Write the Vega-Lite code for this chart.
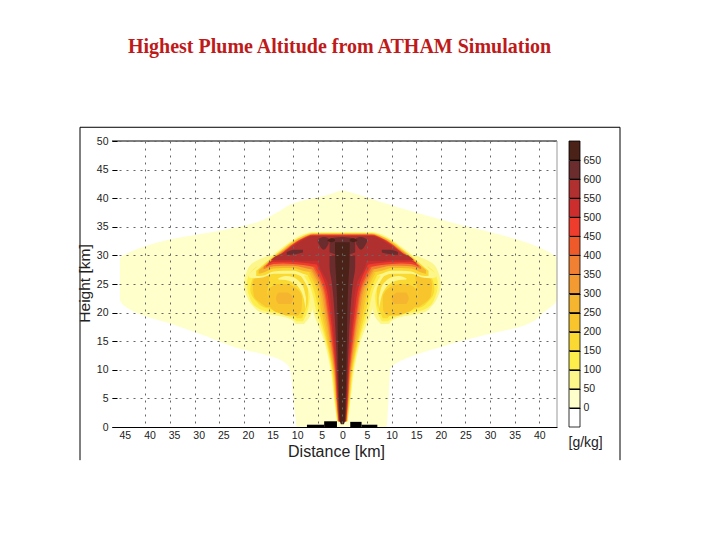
{
"$schema":"https://vega.github.io/schema/vega-lite/v6.json",
"background":"white",
"padding":{"left":77,"top":36,"right":0,"bottom":0},
"spacing":12,
"bounds":"flush",
"config":{"font":"Liberation Sans","view":{"stroke":null}},
"datasets":{
"shell":[
{"part":"env","level":0,"y":0,"x":-9.3,"x2":9},{"part":"env","level":0,"y":5,"x":-10,"x2":9.4},{"part":"env","level":0,"y":10,"x":-10.6,"x2":9.7},{"part":"env","level":0,"y":12,"x":-13.3,"x2":13},{"part":"env","level":0,"y":14,"x":-22,"x2":20},{"part":"env","level":0,"y":16.3,"x":-29,"x2":30},{"part":"env","level":0,"y":17.7,"x":-33.7,"x2":36.8},{"part":"env","level":0,"y":20,"x":-42,"x2":40.9},{"part":"env","level":0,"y":22.4,"x":-45.2,"x2":43.6},{"part":"env","level":0,"y":29.4,"x":-45.2,"x2":43.6},{"part":"env","level":0,"y":31,"x":-42,"x2":41},{"part":"env","level":0,"y":32.9,"x":-34.3,"x2":35},{"part":"env","level":0,"y":34.3,"x":-25,"x2":29},{"part":"env","level":0,"y":35.8,"x":-17.4,"x2":22},{"part":"env","level":0,"y":37.5,"x":-13.3,"x2":15},{"part":"env","level":0,"y":39.3,"x":-9.3,"x2":8},{"part":"env","level":0,"y":40.7,"x":-2.5,"x2":3},{"part":"env","level":0,"y":41.3,"x":-0.5,"x2":0.5},
{"part":"l50","level":50,"y":18,"x":-9.5,"x2":-7.8},{"part":"l50","level":50,"y":19,"x":-11,"x2":-6.8},{"part":"l50","level":50,"y":20,"x":-16.5,"x2":-6.3},{"part":"l50","level":50,"y":21,"x":-18,"x2":-6},{"part":"l50","level":50,"y":23,"x":-19.5,"x2":-5.5},{"part":"l50","level":50,"y":25,"x":-20,"x2":-5.5},{"part":"l50","level":50,"y":27,"x":-19.5,"x2":-5},{"part":"l50","level":50,"y":28.5,"x":-18.5,"x2":-5},{"part":"l50","level":50,"y":30,"x":-15,"x2":-5},
{"part":"r50","level":50,"y":18,"x":7.8,"x2":9.5},{"part":"r50","level":50,"y":19,"x":6.8,"x2":11},{"part":"r50","level":50,"y":20,"x":6.3,"x2":16.5},{"part":"r50","level":50,"y":21,"x":6,"x2":18},{"part":"r50","level":50,"y":23,"x":5.5,"x2":19.5},{"part":"r50","level":50,"y":25,"x":5.5,"x2":20},{"part":"r50","level":50,"y":27,"x":5,"x2":19.5},{"part":"r50","level":50,"y":28.5,"x":5,"x2":18.5},{"part":"r50","level":50,"y":30,"x":5,"x2":15},
{"part":"l100","level":100,"y":18.5,"x":-9.3,"x2":-8},{"part":"l100","level":100,"y":19.5,"x":-11.5,"x2":-7.4},{"part":"l100","level":100,"y":20.5,"x":-16.5,"x2":-7},{"part":"l100","level":100,"y":22,"x":-18.5,"x2":-6.7},{"part":"l100","level":100,"y":25,"x":-19.4,"x2":-6.5},{"part":"l100","level":100,"y":27,"x":-18.7,"x2":-6},{"part":"l100","level":100,"y":28,"x":-17.5,"x2":-6},
{"part":"r100","level":100,"y":18.5,"x":8,"x2":9.3},{"part":"r100","level":100,"y":19.5,"x":7.4,"x2":11.5},{"part":"r100","level":100,"y":20.5,"x":7,"x2":16.5},{"part":"r100","level":100,"y":22,"x":6.7,"x2":18.5},{"part":"r100","level":100,"y":25,"x":6.5,"x2":19.4},{"part":"r100","level":100,"y":27,"x":6,"x2":18.7},{"part":"r100","level":100,"y":28,"x":6,"x2":17.5},
{"part":"l150","level":150,"y":19,"x":-9.2,"x2":-8.2},{"part":"l150","level":150,"y":20,"x":-11,"x2":-7.7},{"part":"l150","level":150,"y":20.8,"x":-15.5,"x2":-7.3},{"part":"l150","level":150,"y":22,"x":-17.5,"x2":-7},{"part":"l150","level":150,"y":24,"x":-18.7,"x2":-7},{"part":"l150","level":150,"y":26,"x":-18.2,"x2":-7},{"part":"l150","level":150,"y":27.5,"x":-16.5,"x2":-7},
{"part":"r150","level":150,"y":19,"x":8.2,"x2":9.2},{"part":"r150","level":150,"y":20,"x":7.7,"x2":11},{"part":"r150","level":150,"y":20.8,"x":7.3,"x2":15.5},{"part":"r150","level":150,"y":22,"x":7,"x2":17.5},{"part":"r150","level":150,"y":24,"x":7,"x2":18.7},{"part":"r150","level":150,"y":26,"x":7,"x2":18.2},{"part":"r150","level":150,"y":27.5,"x":7,"x2":16.5}
],
"swirl":[
{"part":"sl","level":50,"x":-13,"y":25.8,"y2":26},{"part":"sl","level":50,"x":-11.5,"y":25.7,"y2":26.4},{"part":"sl","level":50,"x":-10,"y":25.2,"y2":26.2},{"part":"sl","level":50,"x":-8.8,"y":24.3,"y2":25.5},{"part":"sl","level":50,"x":-7.9,"y":22.6,"y2":24.4},{"part":"sl","level":50,"x":-7.4,"y":20.5,"y2":22.6},
{"part":"sr","level":50,"x":13,"y":25.8,"y2":26},{"part":"sr","level":50,"x":11.5,"y":25.7,"y2":26.4},{"part":"sr","level":50,"x":10,"y":25.2,"y2":26.2},{"part":"sr","level":50,"x":8.8,"y":24.3,"y2":25.5},{"part":"sr","level":50,"x":7.9,"y":22.6,"y2":24.4},{"part":"sr","level":50,"x":7.4,"y":20.5,"y2":22.6}
],
"core":[
{"part":"bl","level":200,"y":19.5,"x":-11.5,"x2":-9},{"part":"bl","level":200,"y":20.5,"x":-14.2,"x2":-8.3},{"part":"bl","level":200,"y":22.5,"x":-15.3,"x2":-8.2},{"part":"bl","level":200,"y":24,"x":-15,"x2":-9},{"part":"bl","level":200,"y":25,"x":-13.5,"x2":-11},
{"part":"br","level":200,"y":19.5,"x":9,"x2":11.5},{"part":"br","level":200,"y":20.5,"x":8.3,"x2":14.2},{"part":"br","level":200,"y":22.5,"x":8.2,"x2":15.3},{"part":"br","level":200,"y":24,"x":9,"x2":15},{"part":"br","level":200,"y":25,"x":11,"x2":13.5},
{"part":"rl","level":200,"y":21,"x":-15.5,"x2":-14.5},{"part":"rl","level":200,"y":23,"x":-18,"x2":-15.3},{"part":"rl","level":200,"y":25,"x":-18.2,"x2":-15},{"part":"rl","level":200,"y":26.5,"x":-17.5,"x2":-14.8},{"part":"rl","level":200,"y":27.5,"x":-16.5,"x2":-15},
{"part":"rr","level":200,"y":21,"x":14.5,"x2":15.5},{"part":"rr","level":200,"y":23,"x":15.3,"x2":18},{"part":"rr","level":200,"y":25,"x":15,"x2":18.2},{"part":"rr","level":200,"y":26.5,"x":14.8,"x2":17.5},{"part":"rr","level":200,"y":27.5,"x":15,"x2":16.5},
{"part":"al","level":250,"y":21.5,"x":-13,"x2":-10.5},{"part":"al","level":250,"y":22.5,"x":-13.5,"x2":-10},{"part":"al","level":250,"y":23.5,"x":-13,"x2":-11},
{"part":"ar","level":250,"y":21.5,"x":10.5,"x2":13},{"part":"ar","level":250,"y":22.5,"x":10,"x2":13.5},{"part":"ar","level":250,"y":23.5,"x":11,"x2":13}
],
"cap":[
{"part":"c50","level":50,"x":-19,"y":26.8,"y2":26.2},{"part":"c50","level":50,"x":-18,"y":27.5,"y2":26},{"part":"c50","level":50,"x":-16,"y":28.8,"y2":26.2},{"part":"c50","level":50,"x":-14,"y":30.2,"y2":26.8},{"part":"c50","level":50,"x":-12,"y":31.5,"y2":26.8},{"part":"c50","level":50,"x":-10,"y":32.8,"y2":26.8},{"part":"c50","level":50,"x":-8,"y":33.7,"y2":26.2},{"part":"c50","level":50,"x":-6,"y":34.1,"y2":25.5},{"part":"c50","level":50,"x":0,"y":34.1,"y2":25},{"part":"c50","level":50,"x":6,"y":34.1,"y2":25.5},{"part":"c50","level":50,"x":8,"y":33.7,"y2":26.2},{"part":"c50","level":50,"x":10,"y":32.8,"y2":26.8},{"part":"c50","level":50,"x":12,"y":31.5,"y2":26.8},{"part":"c50","level":50,"x":14,"y":30.2,"y2":26.8},{"part":"c50","level":50,"x":16,"y":28.8,"y2":26.2},{"part":"c50","level":50,"x":18,"y":27.5,"y2":26},{"part":"c50","level":50,"x":19,"y":26.8,"y2":26.2},
{"part":"c150","level":150,"x":-17.5,"y":27.3,"y2":26.4},{"part":"c150","level":150,"x":-16,"y":28.4,"y2":26.5},{"part":"c150","level":150,"x":-14,"y":29.9,"y2":27.2},{"part":"c150","level":150,"x":-12,"y":31.2,"y2":27.3},{"part":"c150","level":150,"x":-10,"y":32.5,"y2":27.3},{"part":"c150","level":150,"x":-8,"y":33.4,"y2":26.8},{"part":"c150","level":150,"x":-6,"y":33.9,"y2":26.3},{"part":"c150","level":150,"x":0,"y":33.9,"y2":26},{"part":"c150","level":150,"x":6,"y":33.9,"y2":26.3},{"part":"c150","level":150,"x":8,"y":33.4,"y2":26.8},{"part":"c150","level":150,"x":10,"y":32.5,"y2":27.3},{"part":"c150","level":150,"x":12,"y":31.2,"y2":27.3},{"part":"c150","level":150,"x":14,"y":29.9,"y2":27.2},{"part":"c150","level":150,"x":16,"y":28.4,"y2":26.5},{"part":"c150","level":150,"x":17.5,"y":27.3,"y2":26.4},
{"part":"c250","level":250,"x":-17,"y":27.4,"y2":26.8},{"part":"c250","level":250,"x":-16,"y":28.1,"y2":27},{"part":"c250","level":250,"x":-14,"y":29.7,"y2":27.7},{"part":"c250","level":250,"x":-12,"y":31,"y2":27.8},{"part":"c250","level":250,"x":-10,"y":32.3,"y2":27.8},{"part":"c250","level":250,"x":-8,"y":33.3,"y2":27.3},{"part":"c250","level":250,"x":-6,"y":33.8,"y2":27},{"part":"c250","level":250,"x":0,"y":33.8,"y2":26.5},{"part":"c250","level":250,"x":6,"y":33.8,"y2":27},{"part":"c250","level":250,"x":8,"y":33.3,"y2":27.3},{"part":"c250","level":250,"x":10,"y":32.3,"y2":27.8},{"part":"c250","level":250,"x":12,"y":31,"y2":27.8},{"part":"c250","level":250,"x":14,"y":29.7,"y2":27.7},{"part":"c250","level":250,"x":16,"y":28.1,"y2":27},{"part":"c250","level":250,"x":17,"y":27.4,"y2":26.8},
{"part":"c350","level":350,"x":-16,"y":28,"y2":27.6},{"part":"c350","level":350,"x":-14,"y":29.5,"y2":28.1},{"part":"c350","level":350,"x":-12,"y":30.8,"y2":28.2},{"part":"c350","level":350,"x":-10,"y":32.1,"y2":28.2},{"part":"c350","level":350,"x":-8,"y":33.1,"y2":27.9},{"part":"c350","level":350,"x":-6,"y":33.7,"y2":27.5},{"part":"c350","level":350,"x":0,"y":33.7,"y2":27},{"part":"c350","level":350,"x":6,"y":33.7,"y2":27.5},{"part":"c350","level":350,"x":8,"y":33.1,"y2":27.9},{"part":"c350","level":350,"x":10,"y":32.1,"y2":28.2},{"part":"c350","level":350,"x":12,"y":30.8,"y2":28.2},{"part":"c350","level":350,"x":14,"y":29.5,"y2":28.1},{"part":"c350","level":350,"x":16,"y":28,"y2":27.6},
{"part":"c450","level":450,"x":-15.5,"y":28.2,"y2":28},{"part":"c450","level":450,"x":-14,"y":29.3,"y2":28.5},{"part":"c450","level":450,"x":-12,"y":30.6,"y2":28.6},{"part":"c450","level":450,"x":-10,"y":32,"y2":28.5},{"part":"c450","level":450,"x":-8,"y":33,"y2":28.3},{"part":"c450","level":450,"x":-6,"y":33.6,"y2":28},{"part":"c450","level":450,"x":0,"y":33.6,"y2":27.5},{"part":"c450","level":450,"x":6,"y":33.6,"y2":28},{"part":"c450","level":450,"x":8,"y":33,"y2":28.3},{"part":"c450","level":450,"x":10,"y":32,"y2":28.5},{"part":"c450","level":450,"x":12,"y":30.6,"y2":28.6},{"part":"c450","level":450,"x":14,"y":29.3,"y2":28.5},{"part":"c450","level":450,"x":15.5,"y":28.2,"y2":28},
{"part":"c500","level":500,"x":-15,"y":28.7,"y2":28.5},{"part":"c500","level":500,"x":-14,"y":29.2,"y2":28.9},{"part":"c500","level":500,"x":-12,"y":30.5,"y2":28.9},{"part":"c500","level":500,"x":-10,"y":31.8,"y2":28.9},{"part":"c500","level":500,"x":-8,"y":32.9,"y2":28.7},{"part":"c500","level":500,"x":-6,"y":33.5,"y2":28.5},{"part":"c500","level":500,"x":0,"y":33.5,"y2":28},{"part":"c500","level":500,"x":6,"y":33.5,"y2":28.5},{"part":"c500","level":500,"x":8,"y":32.9,"y2":28.7},{"part":"c500","level":500,"x":10,"y":31.8,"y2":28.9},{"part":"c500","level":500,"x":12,"y":30.5,"y2":28.9},{"part":"c500","level":500,"x":14,"y":29.2,"y2":28.9},{"part":"c500","level":500,"x":15,"y":28.7,"y2":28.5},
{"part":"c550","level":550,"x":-14.5,"y":29.2,"y2":29.1},{"part":"c550","level":550,"x":-14,"y":29.6,"y2":29.2},{"part":"c550","level":550,"x":-12,"y":30.4,"y2":29.2},{"part":"c550","level":550,"x":-10,"y":31.6,"y2":29.2},{"part":"c550","level":550,"x":-8,"y":32.7,"y2":29},{"part":"c550","level":550,"x":-6,"y":33.4,"y2":29},{"part":"c550","level":550,"x":0,"y":33.4,"y2":29},{"part":"c550","level":550,"x":6,"y":33.4,"y2":29},{"part":"c550","level":550,"x":8,"y":32.7,"y2":29},{"part":"c550","level":550,"x":10,"y":31.6,"y2":29.2},{"part":"c550","level":550,"x":12,"y":30.4,"y2":29.2},{"part":"c550","level":550,"x":14,"y":29.6,"y2":29.2},{"part":"c550","level":550,"x":14.5,"y":29.2,"y2":29.1},
{"part":"d1","level":600,"x":-5,"y":32.8,"y2":32.4},{"part":"d1","level":600,"x":-3.8,"y":33.2,"y2":31},{"part":"d1","level":600,"x":-2.8,"y":33,"y2":32},
{"part":"d2","level":600,"x":2.8,"y":33,"y2":32},{"part":"d2","level":600,"x":3.8,"y":33.2,"y2":31},{"part":"d2","level":600,"x":5,"y":32.8,"y2":32.4},
{"part":"d3","level":600,"x":-2.6,"y":32.9,"y2":30.5},{"part":"d3","level":600,"x":0,"y":33.2,"y2":30},{"part":"d3","level":600,"x":2.6,"y":32.9,"y2":30.5},
{"part":"p1","level":650,"x":-3,"y":32.7,"y2":32.5},{"part":"p1","level":650,"x":-2.2,"y":33,"y2":32.3},{"part":"p1","level":650,"x":-1.5,"y":32.8,"y2":32.5},
{"part":"p2","level":650,"x":1.5,"y":32.8,"y2":32.5},{"part":"p2","level":650,"x":2.2,"y":33,"y2":32.3},{"part":"p2","level":650,"x":3,"y":32.7,"y2":32.5},
{"part":"p3","level":600,"x":-11.3,"y":30.6,"y2":30.1},{"part":"p3","level":600,"x":-9.7,"y":31,"y2":30.2},{"part":"p3","level":600,"x":-8,"y":31,"y2":30.5},
{"part":"p4","level":600,"x":8,"y":31,"y2":30.5},{"part":"p4","level":600,"x":9.7,"y":31,"y2":30.2},{"part":"p4","level":600,"x":11.3,"y":30.6,"y2":30.1}
],
"stem":[
{"part":"t50","level":50,"y":1,"x":-1.1,"x2":1.1},{"part":"t50","level":50,"y":5,"x":-1.7,"x2":1.7},{"part":"t50","level":50,"y":10,"x":-2.4,"x2":2.4},{"part":"t50","level":50,"y":15,"x":-3.7,"x2":3.7},{"part":"t50","level":50,"y":20,"x":-5.9,"x2":5.9},{"part":"t50","level":50,"y":25,"x":-7.4,"x2":7.4},{"part":"t50","level":50,"y":26.5,"x":-8.5,"x2":8.5},
{"part":"t100","level":100,"y":1,"x":-1.05,"x2":1.05},{"part":"t100","level":100,"y":5,"x":-1.6,"x2":1.6},{"part":"t100","level":100,"y":10,"x":-2.2,"x2":2.2},{"part":"t100","level":100,"y":15,"x":-3.4,"x2":3.4},{"part":"t100","level":100,"y":20,"x":-5.2,"x2":5.2},{"part":"t100","level":100,"y":25,"x":-6.8,"x2":6.8},{"part":"t100","level":100,"y":26.5,"x":-7.8,"x2":7.8},
{"part":"t150","level":150,"y":1,"x":-1,"x2":1},{"part":"t150","level":150,"y":5,"x":-1.5,"x2":1.5},{"part":"t150","level":150,"y":10,"x":-2.05,"x2":2.05},{"part":"t150","level":150,"y":15,"x":-3.2,"x2":3.2},{"part":"t150","level":150,"y":20,"x":-4.7,"x2":4.7},{"part":"t150","level":150,"y":25,"x":-6.2,"x2":6.2},{"part":"t150","level":150,"y":26.8,"x":-7.2,"x2":7.2},
{"part":"t200","level":200,"y":1,"x":-0.95,"x2":0.95},{"part":"t200","level":200,"y":5,"x":-1.4,"x2":1.4},{"part":"t200","level":200,"y":10,"x":-1.9,"x2":1.9},{"part":"t200","level":200,"y":15,"x":-3,"x2":3},{"part":"t200","level":200,"y":20,"x":-4.2,"x2":4.2},{"part":"t200","level":200,"y":25,"x":-5.6,"x2":5.6},{"part":"t200","level":200,"y":27,"x":-6.8,"x2":6.8},
{"part":"t250","level":250,"y":1,"x":-0.9,"x2":0.9},{"part":"t250","level":250,"y":5,"x":-1.3,"x2":1.3},{"part":"t250","level":250,"y":10,"x":-1.8,"x2":1.8},{"part":"t250","level":250,"y":15,"x":-2.8,"x2":2.8},{"part":"t250","level":250,"y":20,"x":-3.8,"x2":3.8},{"part":"t250","level":250,"y":25,"x":-5.2,"x2":5.2},{"part":"t250","level":250,"y":27.3,"x":-6.6,"x2":6.6},
{"part":"t300","level":300,"y":1,"x":-0.85,"x2":0.85},{"part":"t300","level":300,"y":5,"x":-1.25,"x2":1.25},{"part":"t300","level":300,"y":10,"x":-1.7,"x2":1.7},{"part":"t300","level":300,"y":15,"x":-2.55,"x2":2.55},{"part":"t300","level":300,"y":20,"x":-3.5,"x2":3.5},{"part":"t300","level":300,"y":25,"x":-4.8,"x2":4.8},{"part":"t300","level":300,"y":27.5,"x":-6.4,"x2":6.4},
{"part":"t350","level":350,"y":1,"x":-0.8,"x2":0.8},{"part":"t350","level":350,"y":5,"x":-1.2,"x2":1.2},{"part":"t350","level":350,"y":10,"x":-1.6,"x2":1.6},{"part":"t350","level":350,"y":15,"x":-2.4,"x2":2.4},{"part":"t350","level":350,"y":20,"x":-3.2,"x2":3.2},{"part":"t350","level":350,"y":25,"x":-4.5,"x2":4.5},{"part":"t350","level":350,"y":27.7,"x":-6.2,"x2":6.2},
{"part":"t400","level":400,"y":1,"x":-0.78,"x2":0.78},{"part":"t400","level":400,"y":5,"x":-1.15,"x2":1.15},{"part":"t400","level":400,"y":10,"x":-1.5,"x2":1.5},{"part":"t400","level":400,"y":15,"x":-2.2,"x2":2.2},{"part":"t400","level":400,"y":20,"x":-3,"x2":3},{"part":"t400","level":400,"y":25,"x":-4.2,"x2":4.2},{"part":"t400","level":400,"y":28,"x":-6,"x2":6},
{"part":"t450","level":450,"y":1,"x":-0.75,"x2":0.75},{"part":"t450","level":450,"y":5,"x":-1.1,"x2":1.1},{"part":"t450","level":450,"y":10,"x":-1.4,"x2":1.4},{"part":"t450","level":450,"y":15,"x":-2.05,"x2":2.05},{"part":"t450","level":450,"y":20,"x":-2.8,"x2":2.8},{"part":"t450","level":450,"y":25,"x":-3.9,"x2":3.9},{"part":"t450","level":450,"y":28.3,"x":-5.8,"x2":5.8},
{"part":"t500","level":500,"y":1,"x":-0.7,"x2":0.7},{"part":"t500","level":500,"y":5,"x":-1,"x2":1},{"part":"t500","level":500,"y":10,"x":-1.3,"x2":1.3},{"part":"t500","level":500,"y":15,"x":-1.85,"x2":1.85},{"part":"t500","level":500,"y":20,"x":-2.5,"x2":2.5},{"part":"t500","level":500,"y":25,"x":-3.5,"x2":3.5},{"part":"t500","level":500,"y":28.7,"x":-5.4,"x2":5.4},
{"part":"t550","level":550,"y":1,"x":-0.65,"x2":0.65},{"part":"t550","level":550,"y":5,"x":-0.95,"x2":0.95},{"part":"t550","level":550,"y":10,"x":-1.2,"x2":1.2},{"part":"t550","level":550,"y":15,"x":-1.6,"x2":1.6},{"part":"t550","level":550,"y":20,"x":-2.15,"x2":2.15},{"part":"t550","level":550,"y":25,"x":-2.9,"x2":2.9},{"part":"t550","level":550,"y":28,"x":-4.6,"x2":4.6},{"part":"t550","level":550,"y":30,"x":-5,"x2":5},
{"part":"t600","level":600,"y":1,"x":-0.6,"x2":0.6},{"part":"t600","level":600,"y":5,"x":-0.85,"x2":0.85},{"part":"t600","level":600,"y":10,"x":-1.05,"x2":1.05},{"part":"t600","level":600,"y":15,"x":-1.3,"x2":1.3},{"part":"t600","level":600,"y":20,"x":-1.6,"x2":1.6},{"part":"t600","level":600,"y":25,"x":-2.1,"x2":2.1},{"part":"t600","level":600,"y":28,"x":-2.6,"x2":2.6},{"part":"t600","level":600,"y":30,"x":-2.6,"x2":2.6},
{"part":"t650","level":650,"y":0.5,"x":-0.3,"x2":0.3},{"part":"t650","level":650,"y":1,"x":-0.5,"x2":0.5},{"part":"t650","level":650,"y":5,"x":-0.65,"x2":0.65},{"part":"t650","level":650,"y":10,"x":-0.8,"x2":0.8},{"part":"t650","level":650,"y":15,"x":-0.9,"x2":0.9},{"part":"t650","level":650,"y":20,"x":-1,"x2":1},{"part":"t650","level":650,"y":25,"x":-1.2,"x2":1.2},{"part":"t650","level":650,"y":28,"x":-1.4,"x2":1.4},{"part":"t650","level":650,"y":32.3,"x":-1.5,"x2":1.5}
],
"ground":[
{"x":-7.2,"x2":-3.7,"y":0,"y2":0.4},{"x":-3.7,"x2":-1.1,"y":0,"y2":1},{"x":1.6,"x2":3.9,"y":0,"y2":0.9},{"x":3.9,"x2":7.1,"y":0,"y2":0.4}
],
"frameH":[
{"x":-53.3,"x2":56.4,"y":52.4},{"x":-46.8,"x2":43.6,"y":50}
],
"frameV":[
{"x":-53.3,"y":-5.8,"y2":52.4,"tone":"frame"},{"x":56.4,"y":-5.8,"y2":52.4,"tone":"frame"},{"x":43.6,"y":0,"y2":50,"tone":"plot"}
],
"bands":[
{"level":-50,"low":-50,"high":0},{"level":0,"low":0,"high":50},{"level":50,"low":50,"high":100},{"level":100,"low":100,"high":150},{"level":150,"low":150,"high":200},{"level":200,"low":200,"high":250},{"level":250,"low":250,"high":300},{"level":300,"low":300,"high":350},{"level":350,"low":350,"high":400},{"level":400,"low":400,"high":450},{"level":450,"low":450,"high":500},{"level":500,"low":500,"high":550},{"level":550,"low":550,"high":600},{"level":600,"low":600,"high":650},{"level":650,"low":650,"high":700}
]
},
"hconcat":[
{
"width":445,"height":286,
"title":{"text":"Highest Plume Altitude from ATHAM Simulation","font":"Liberation Serif","fontSize":20,"fontWeight":"bold","color":"#bf1a1a","anchor":"middle","offset":70,"dx":5},
"encoding":{
"x":{"field":"x","type":"quantitative","title":"Distance  [km]","scale":{"domain":[-46.8,43.6],"nice":false,"zero":false},
"axis":{"values":[-45,-40,-35,-30,-25,-20,-15,-10,-5,0,5,10,15,20,25,30,35,40],"labelExpr":"abs(datum.value)","labelFontSize":10.5,"labelColor":"#222","labelPadding":3,"labelOffset":{"expr":"datum.value<0?4:0"},"ticks":false,"domainColor":"#000","grid":true,"gridColor":"#666","gridDash":[2,5],"gridOpacity":{"expr":"datum.value==-45?0:1"},"zindex":1,"titleFontSize":16,"titleFontWeight":"normal","titleColor":"#222","titlePadding":3,"titleX":224}},
"y":{"field":"y","type":"quantitative","title":"Height [km]","scale":{"domain":[0,50],"nice":false,"zero":false},
"axis":{"values":[0,5,10,15,20,25,30,35,40,45,50],"labelFontSize":10.5,"labelColor":"#222","labelPadding":9,"tickSize":-5,"tickColor":"#000","domain":false,"grid":true,"gridColor":"#666","gridDash":[2,5],"zindex":1,"titleFontSize":15.5,"titleFontWeight":"normal","titleColor":"#222","titleX":-20,"titleY":142}}
},
"layer":[
{"data":{"name":"shell"},"mark":{"type":"area","orient":"horizontal","interpolate":"monotone"},"encoding":{"x2":{"field":"x2"},"detail":{"field":"part"},"color":{"field":"level","type":"ordinal","legend":null,"scale":{"domain":[-50,0,50,100,150,200,250,300,350,400,450,500,550,600,650],"range":["#ffffff","#ffffcc","#fdf68a","#fdee4c","#fad932","#f8c52d","#f6b52e","#f39b30","#f28033","#ef5a2a","#ee3d2c","#cc2e2e","#b03030","#6a2c2c","#4a2218"]}}}},
{"data":{"name":"swirl"},"mark":{"type":"area","orient":"vertical","interpolate":"monotone"},"encoding":{"y2":{"field":"y2"},"detail":{"field":"part"},"color":{"field":"level","type":"ordinal"}}},
{"data":{"name":"core"},"mark":{"type":"area","orient":"horizontal","interpolate":"monotone"},"encoding":{"x2":{"field":"x2"},"detail":{"field":"part"},"color":{"field":"level","type":"ordinal"}}},
{"data":{"name":"cap"},"mark":{"type":"area","orient":"vertical","interpolate":"monotone"},"encoding":{"y2":{"field":"y2"},"detail":{"field":"part"},"color":{"field":"level","type":"ordinal"}}},
{"data":{"name":"stem"},"mark":{"type":"area","orient":"horizontal","interpolate":"monotone"},"encoding":{"x2":{"field":"x2"},"detail":{"field":"part"},"color":{"field":"level","type":"ordinal"}}},
{"data":{"name":"ground"},"mark":{"type":"rect","color":"#000"},"encoding":{"x2":{"field":"x2"},"y2":{"field":"y2"}}},
{"data":{"name":"frameH"},"mark":{"type":"rule","color":"#000","strokeWidth":1},"encoding":{"x2":{"field":"x2"}}},
{"data":{"name":"frameV"},"mark":{"type":"rule","strokeWidth":1},"encoding":{"y2":{"field":"y2"},"stroke":{"field":"tone","type":"nominal","legend":null,"scale":{"domain":["frame","plot"],"range":["#000000","#999999"]}}}}
]
},
{
"width":11,"height":286,
"data":{"name":"bands"},
"title":{"text":"[g/kg]","orient":"bottom","anchor":"start","fontSize":14,"fontWeight":"normal","color":"#222","offset":9,"font":"Liberation Sans"},
"mark":{"type":"rect","stroke":"#000","strokeWidth":0.8},
"encoding":{
"y":{"field":"low","type":"quantitative","title":null,"scale":{"domain":[-50,700],"nice":false,"zero":false},
"axis":{"orient":"right","values":[0,50,100,150,200,250,300,350,400,450,500,550,600,650],"labelFontSize":10.5,"labelColor":"#222","labelPadding":14,"tickSize":-11,"tickColor":"#000","domain":false,"zindex":1}},
"y2":{"field":"high"},
"color":{"field":"level","type":"ordinal","legend":null,"scale":{"domain":[-50,0,50,100,150,200,250,300,350,400,450,500,550,600,650],"range":["#ffffff","#ffffcc","#fdf68a","#fdee4c","#fad932","#f8c52d","#f6b52e","#f39b30","#f28033","#ef5a2a","#ee3d2c","#cc2e2e","#b03030","#6a2c2c","#4a2218"]}}
}
}
]
}
